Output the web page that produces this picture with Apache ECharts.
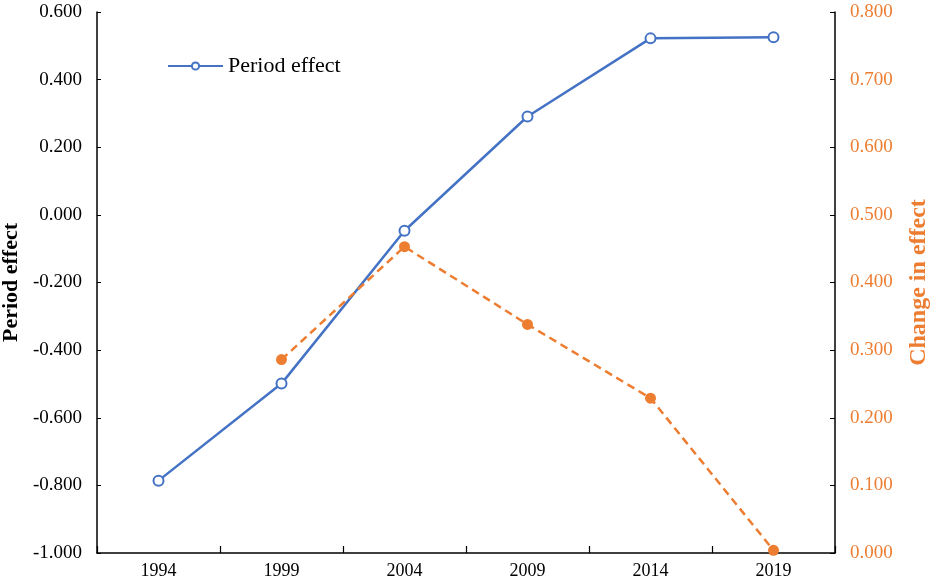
<!DOCTYPE html>
<html>
<head>
<meta charset="utf-8">
<script src="https://cdn.jsdelivr.net/npm/echarts@6/dist/echarts.min.js"></script>
<style>
html, body { margin: 0; padding: 0; background: #fff; }
#chart { width: 935px; height: 585px; }
</style>
</head>
<body>
<div id="chart"></div>
<script>
// data
var years = ['1994', '1999', '2004', '2009', '2014', '2019'];
var periodEffect = [-0.786, -0.499, -0.047, 0.291, 0.522, 0.525];
var changeInEffect = [null, 0.286, 0.453, 0.338, 0.229, 0.004];

var blue = '#4472C4';
var orange = '#ED7D31';
var font = '"Liberation Serif", "Times New Roman", serif';

var chart = echarts.init(document.getElementById('chart'));

var option = {
    backgroundColor: '#fff',
    animation: false,
    textStyle: { fontFamily: font },
    grid: { left: 97, right: 100, top: 12, bottom: 32, containLabel: false, outerBoundsMode: 'none' },
    legend: {
        data: ['Period effect'],
        left: 162,
        top: 50,
        itemWidth: 55,
        itemHeight: 9,
        itemGap: 5,
        textStyle: { fontFamily: font, fontSize: 22, color: '#000' }
    },
    xAxis: {
        type: 'category',
        data: years,
        boundaryGap: true,
        axisLine: { onZero: false, lineStyle: { color: '#000', width: 1.5 } },
        axisTick: { show: true, inside: true, length: 7, lineStyle: { color: '#000', width: 1.2 } },
        axisLabel: { color: '#000', fontSize: 18, fontFamily: font, margin: 9 }
    },
    yAxis: [{
        type: 'value',
        min: -1,
        max: 0.6,
        interval: 0.2,
        name: 'Period effect',
        nameLocation: 'middle',
        nameRotate: 90,
        nameGap: 70,
        nameTextStyle: { fontFamily: font, fontSize: 22, fontWeight: 'bold', color: '#000' },
        axisLine: { show: true, onZero: false, lineStyle: { color: '#000', width: 1.5 } },
        axisTick: { show: true, inside: true, length: 4, lineStyle: { color: '#000' } },
        splitLine: { show: false },
        axisLabel: {
            color: '#000', fontSize: 19, fontFamily: font, margin: 15,
            formatter: function (v) { return v.toFixed(3); }
        }
    }, {
        type: 'value',
        min: 0,
        max: 0.8,
        interval: 0.1,
        position: 'right',
        name: 'Change in effect',
        nameLocation: 'middle',
        nameRotate: 90,
        nameGap: 72,
        nameTextStyle: { fontFamily: font, fontSize: 24, fontWeight: 'bold', color: orange },
        axisLine: { show: true, onZero: false, lineStyle: { color: '#000', width: 1.5 } },
        axisTick: { show: true, inside: true, length: 5, lineStyle: { color: '#000' } },
        splitLine: { show: false },
        axisLabel: {
            color: orange, fontSize: 19, fontFamily: font, margin: 15,
            formatter: function (v) { return v.toFixed(3); }
        }
    }],
    series: [{
        name: 'Period effect',
        type: 'line',
        yAxisIndex: 0,
        data: periodEffect,
        symbol: 'emptyCircle',
        symbolSize: 10,
        color: blue,
        lineStyle: { color: blue, width: 2.5 },
        itemStyle: { color: blue, borderWidth: 1.5 }
    }, {
        name: 'Change in effect',
        type: 'line',
        yAxisIndex: 1,
        data: changeInEffect,
        symbol: 'circle',
        symbolSize: 11,
        color: orange,
        lineStyle: { color: orange, width: 2.5, type: [8, 5] },
        itemStyle: { color: orange }
    }]
};

chart.setOption(option);
</script>
</body>
</html>
